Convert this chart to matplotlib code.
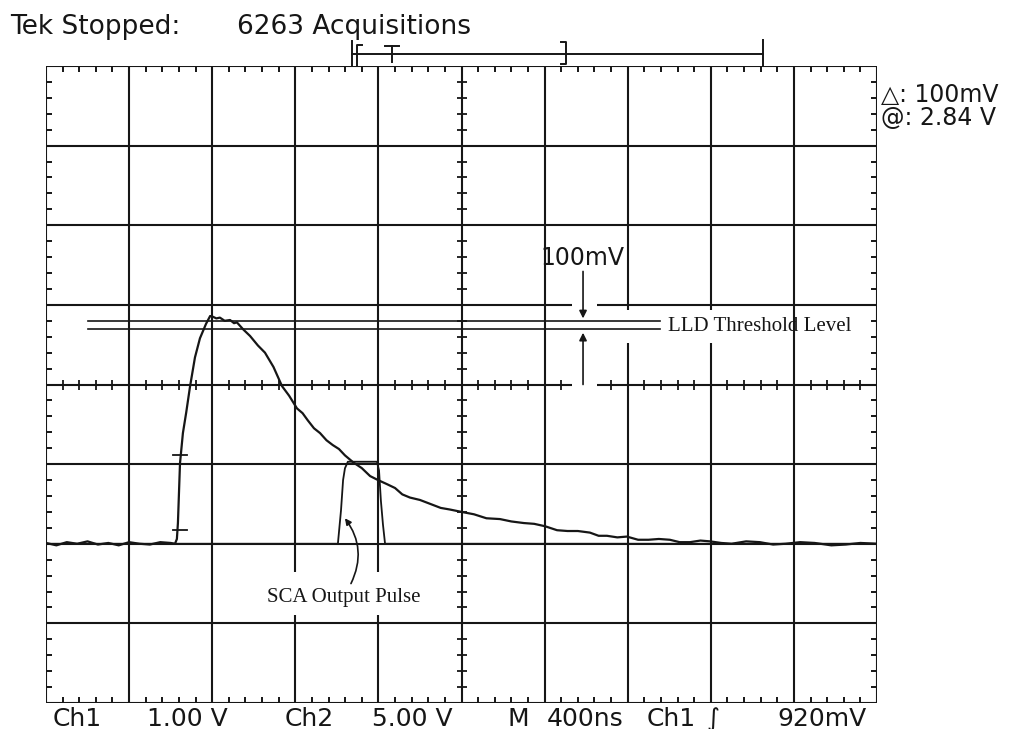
import numpy as np
import matplotlib.pyplot as plt

# Scope settings
ns_per_div = 400
ch1_volts_per_div = 1.0
ch2_volts_per_div = 5.0

# Ch1 - detector pulse (time ns, volts above ground)
ch1_t = [0, 50, 100, 150, 200, 250, 300, 350, 400, 450, 500, 550, 600, 621, 630,
         635, 645, 659, 675, 693, 717, 741, 770, 790, 804, 820, 837, 860, 886, 905,
         919, 950, 982, 1020, 1054, 1095, 1136, 1170, 1208, 1235, 1260, 1290, 1319,
         1350, 1380, 1410, 1439, 1480, 1520, 1560, 1598, 1640, 1680, 1715, 1752,
         1800, 1850, 1900, 1944, 2000, 2060, 2120, 2185, 2240, 2300, 2350, 2402,
         2460, 2510, 2560, 2618, 2660, 2700, 2750, 2796, 2850, 2900, 2950, 3003,
         3050, 3100, 3150, 3196, 3250, 3300, 3370, 3436, 3500, 3560, 3630, 3700,
         3780, 3850, 3920, 4000]
ch1_v = [0.01, -0.02, 0.02, 0.0, 0.03, -0.01, 0.01, -0.02, 0.02, 0.0, -0.01, 0.02,
         0.01, 0.0, 0.06, 0.26, 1.01, 1.39, 1.65, 1.97, 2.34, 2.58, 2.76, 2.86, 2.85,
         2.83, 2.84, 2.80, 2.81, 2.77, 2.78, 2.69, 2.61, 2.49, 2.40, 2.22, 1.98, 1.86,
         1.70, 1.64, 1.55, 1.45, 1.39, 1.30, 1.24, 1.19, 1.11, 1.02, 0.95, 0.85, 0.80,
         0.75, 0.70, 0.62, 0.58, 0.55, 0.50, 0.45, 0.43, 0.40, 0.37, 0.32, 0.31, 0.28,
         0.26, 0.25, 0.22, 0.17, 0.16, 0.16, 0.14, 0.10, 0.10, 0.08, 0.09, 0.05, 0.05,
         0.06, 0.05, 0.02, 0.02, 0.04, 0.03, 0.01, 0.00, 0.03, 0.02, -0.01, 0.00, 0.02,
         0.01, -0.02, -0.01, 0.01, 0.0]

# Ch2 - SCA output pulse (time ns, volts)
ch2_t = [0, 1405, 1420, 1430, 1439, 1453, 1593, 1603, 1612, 1622, 1632, 4000]
ch2_v = [0, 0, 2.1, 4.0, 4.74, 5.15, 5.15, 4.6, 2.7, 1.2, 0, 0]

# cursors (Ch1 volts) and the little level marks on the rising edge
cursor_v = [2.80, 2.70]
cursor_t = [202, 2955]
mark_v = [1.11, 0.17]
mark_t = [610, 679]

header_left = "Tek Stopped:"
header_right = "6263 Acquisitions"
readout = ["\u25b3: 100mV", "@: 2.84 V"]
bottom_labels = ["Ch1", "1.00 V", "Ch2", "5.00 V", "M", "400ns", "Ch1", "\u222b", "920mV"]
bottom_x = [53, 147, 285, 372, 507, 547, 647, 707, 777]

ink = "#161616"
W, H = 1017, 729
L, R, T, B = 46, 877, 66, 703

fig = plt.figure(figsize=(W / 100, H / 100), dpi=100)
fig.patch.set_facecolor("white")

ax = fig.add_axes([L / W, 1 - B / H, (R - L) / W, (B - T) / H])
t_max = 10 * ns_per_div
ax.set_xlim(0, t_max)
ax.set_ylim(-2 * ch1_volts_per_div, 6 * ch1_volts_per_div)
ax.axis("off")
ax2 = ax.twinx()
ax2.set_ylim(-2 * ch2_volts_per_div, 6 * ch2_volts_per_div)
ax2.axis("off")

px_t = t_max / (R - L)
px_v = 8.0 / (B - T)


def pieces(a, b, gaps):
    out, cur = [], a
    for g0, g1 in gaps:
        out.append((cur, g0))
        cur = g1
    out.append((cur, b))
    return out


# graticule with the gaps left for the hand-written notes
v_gaps = {1200: [(-0.90, -0.36)], 1600: [(-0.90, -0.36)],
          2800: [(2.52, 2.93)], 3200: [(2.52, 2.93)]}
h_gaps = {2: [(2532, 2652)], 3: [(2532, 2652)]}
lw_grid = 1.5
for xg in range(0, t_max + 1, ns_per_div):
    for a, b in pieces(-2, 6, v_gaps.get(xg, [])):
        ax.plot([xg, xg], [a, b], color=ink, lw=lw_grid, solid_capstyle="butt")
for yg in range(-2, 7):
    for a, b in pieces(0, t_max, h_gaps.get(yg, [])):
        ax.plot([a, b], [yg, yg], color=ink, lw=lw_grid, solid_capstyle="butt")

# minor ticks
minor_t = [t for t in range(0, t_max + 1, 80) if t % ns_per_div != 0]
minor_v = [v for v in np.round(np.arange(-2, 6.01, 0.2), 2) if abs(v - round(v)) > 1e-6]
tk = 6
ax.vlines(minor_t, 6 - tk * px_v, 6, color=ink, lw=1.4)
ax.vlines(minor_t, -2, -2 + tk * px_v, color=ink, lw=1.4)
centre_t = [t for t in minor_t if not (2532 < t < 2652)]
ax.vlines(centre_t, 2 - 5 * px_v, 2 + 5 * px_v, color=ink, lw=1.3)
ax.hlines(minor_v, 0, tk * px_t, color=ink, lw=1.4)
ax.hlines(minor_v, t_max - tk * px_t, t_max, color=ink, lw=1.4)
ax.hlines(minor_v, 2000 - 5 * px_t, 2000 + 5 * px_t, color=ink, lw=1.3)

# traces
ax.plot(ch1_t, ch1_v, color=ink, lw=1.6, solid_joinstyle="round")
ax2.plot(ch2_t, ch2_v, color=ink, lw=1.3)
for v in cursor_v:
    ax.plot(cursor_t, [v, v], color=ink, lw=1.2)
for v in mark_v:
    ax.plot(mark_t, [v, v], color=ink, lw=1.3)

# annotations
arrow = dict(arrowstyle="-|>", color=ink, lw=1.2, mutation_scale=11, shrinkA=0, shrinkB=0)
ax.annotate("", xy=(2585, 2.83), xytext=(2585, 3.42), arrowprops=arrow)
ax.annotate("", xy=(2585, 2.65), xytext=(2585, 2.0), arrowprops=arrow)
ax.text(2580, 3.59, "100mV", fontsize=17, color=ink, ha="center", va="center",
        family="DejaVu Sans")
ax.text(2994, 2.73, "LLD Threshold Level", fontsize=15, color=ink, ha="left",
        va="center", family="Liberation Serif")
ax.annotate("", xy=(1439, 0.32), xytext=(1468, -0.50),
            arrowprops=dict(arrow, connectionstyle="arc3,rad=0.3", mutation_scale=9))
ax.text(1434, -0.67, "SCA Output Pulse", fontsize=15, color=ink, ha="center",
        va="center", family="Liberation Serif")

# screen text around the graticule, in pixel layout
ov = fig.add_axes([0, 0, 1, 1])
ov.set_xlim(0, W)
ov.set_ylim(H, 0)
ov.axis("off")
ov.patch.set_alpha(0)

ov.text(10, 34, header_left, fontsize=19, color=ink, va="baseline")
ov.text(237, 34, header_right, fontsize=19, color=ink, va="baseline")
ov.text(881, 102, readout[0], fontsize=17, color=ink, va="baseline")
ov.text(881, 125, readout[1], fontsize=17, color=ink, va="baseline")
for x, s in zip(bottom_x, bottom_labels):
    ov.text(x, 726, s, fontsize=18, color=ink, va="baseline")

# trigger position bar
ov.plot([352, 763], [54, 54], color=ink, lw=1.4)
ov.plot([352, 352], [41, 66], color=ink, lw=1.4)
ov.plot([763, 763], [40, 66], color=ink, lw=1.4)
ov.plot([362, 357, 357], [45, 45, 66], color=ink, lw=1.4)
ov.plot([385, 399], [46, 46], color=ink, lw=1.4)
ov.plot([392, 392], [46, 62], color=ink, lw=1.4)
ov.plot([561, 566, 566, 561], [42, 42, 64, 64], color=ink, lw=1.4)

fig.savefig("out.png", dpi=100, facecolor="white")
